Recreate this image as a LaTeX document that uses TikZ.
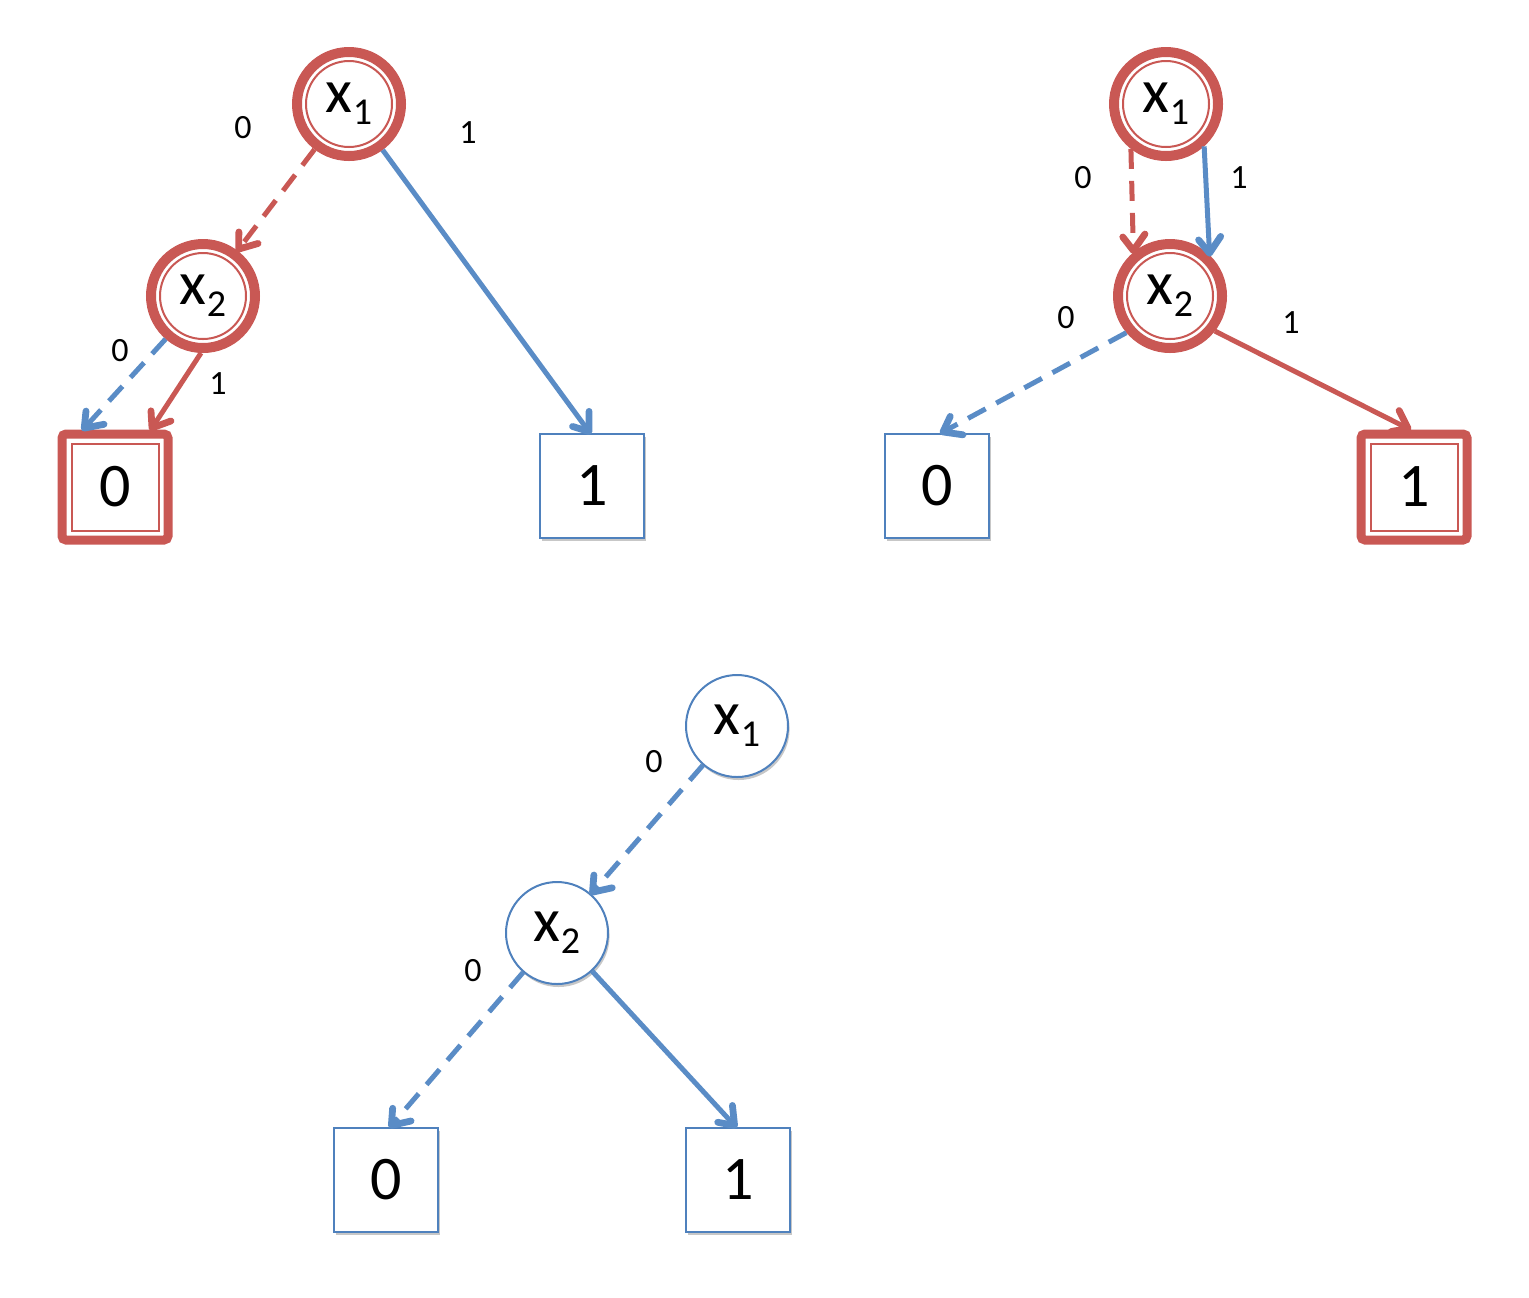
\documentclass[tikz,border=0pt]{standalone}
\usepackage{fontspec}
\setmainfont{Carlito}
\usetikzlibrary{decorations.markings,shadows}
\definecolor{pred}{RGB}{201,88,84}
\definecolor{pblue}{RGB}{79,129,189}
\definecolor{eblue}{RGB}{90,140,198}
\newcommand\xsub[1]{x\raisebox{-0.4ex}{\fontsize{19}{19}\selectfont #1}}
\tikzset{
  shad/.style={drop shadow={shadow xshift=0.8pt,shadow yshift=-1.5pt,opacity=0.22,fill=black}},
  bigtxt/.style={font=\fontsize{31}{31}\selectfont},
  lab/.style={font=\fontsize{17}{17}\selectfont, inner sep=0pt},
  pcirc/.style={circle, draw=pblue, line width=1pt, fill=white, minimum size=51pt, inner sep=0pt, bigtxt, shad},
  hcirc/.style={circle, draw=pred, line width=5pt, fill=white, minimum size=52pt, inner sep=0pt, bigtxt, shad},
  psq/.style={rectangle, draw=pblue, line width=1pt, fill=white, minimum size=52pt, inner sep=0pt, bigtxt, shad},
  hsq/.style={rectangle, draw=pred, line width=4.5pt, rounded corners=2pt, fill=white, minimum size=53pt, inner sep=0pt, bigtxt, shad},
  inring/.style={draw=pred, line width=1pt},
  edg/.style={line width=2.5pt, shorten >=1.5pt,
    postaction={decorate, decoration={markings, mark=at position 1 with {
      \draw[solid, line width=3.4pt, line cap=round, line join=round]
        (-9pt,6pt) -- (-0.9pt,0pt) -- (-9pt,-6pt);}}}},
  dsh/.style={dash pattern=on 10pt off 6pt},
}
\begin{document}
\begin{tikzpicture}[x=0.5pt,y=-0.5pt]
\useasboundingbox (0,0) rectangle (1529,1297);
% ---------- diagram 1 ----------
\node[hcirc] (a1) at (349,104) {\xsub{1}};
\node[hcirc] (a2) at (203,296) {\xsub{2}};
\node[hsq] (a0) at (115,487) {0};
\node[psq] (aI) at (592,486) {1};
\draw[inring] (a1.center) circle (21.5pt);
\draw[inring] (a2.center) circle (21.5pt);
\draw[inring] ([shift={(-21.75pt,-21.75pt)}]a0.center) rectangle ([shift={(21.75pt,21.75pt)}]a0.center);
\draw[edg, pred, dsh] (a1) -- (a2);
\draw[edg, eblue] (a1) -- ([xshift=-1pt]aI.north);
\draw[edg, eblue, dsh] (a2.-131) -- ([xshift=-16pt]a0.north);
\draw[edg, pred] (a2.-92) -- ([xshift=18pt]a0.north);
\node[lab] (l1) at (243,128) {0};
\node[lab] (l2) at (468,133) {1};
\node[lab] (l3) at (120,351) {0};
\node[lab] (l4) at (218,384) {1};
% ---------- diagram 2 ----------
\node[hcirc] (b1) at (1166,104) {\xsub{1}};
\node[hcirc] (b2) at (1170,296) {\xsub{2}};
\node[psq] (b0) at (937,486) {0};
\node[hsq] (bI) at (1414,487) {1};
\draw[inring] (b1.center) circle (21.5pt);
\draw[inring] (b2.center) circle (21.5pt);
\draw[inring] ([shift={(-21.75pt,-21.75pt)}]bI.center) rectangle ([shift={(21.75pt,21.75pt)}]bI.center);
\draw[edg, pred, dsh] (b1.-128) -- (b2.130);
\draw[edg, eblue] (b1.-48) -- (b2.46);
\draw[edg, eblue, dsh] (b2.-140) -- ([xshift=2pt]b0.north);
\draw[edg, pred] (b2.-38) -- ([xshift=-2pt]bI.north);
\node[lab] (m1) at (1083,178) {0};
\node[lab] (m2) at (1239,178) {1};
\node[lab] (m3) at (1066,318) {0};
\node[lab] (m4) at (1291,323) {1};
% ---------- diagram 3 ----------
\node[pcirc] (c1) at (737,726) {\xsub{1}};
\node[pcirc] (c2) at (557,933) {\xsub{2}};
\node[psq] (c0) at (386,1180) {0};
\node[psq] (cI) at (738,1180) {1};
\draw[edg, eblue, dsh] (c1) -- (c2);
\draw[edg, eblue, dsh] (c2) -- ([xshift=2pt]c0.north);
\draw[edg, eblue] (c2) -- ([xshift=-1pt]cI.north);
\node[lab] (n1) at (654,762) {0};
\node[lab] (n2) at (473,971) {0};
\end{tikzpicture}
\end{document}
